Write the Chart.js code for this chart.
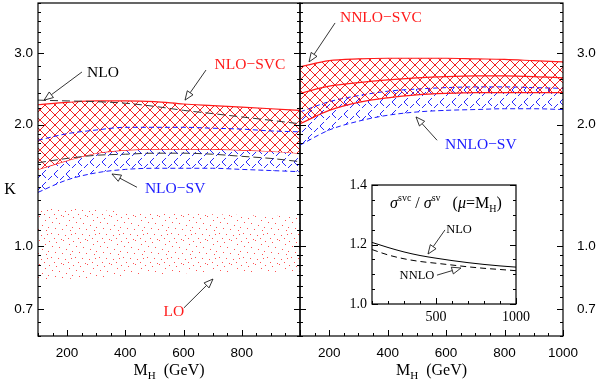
<!DOCTYPE html>
<html>
<head>
<meta charset="utf-8">
<script src="https://cdn.jsdelivr.net/npm/chart.js@4"></script>
<style>
    html, body { margin:0; padding:0; background:#fff; }
    #wrap { position:relative; width:599px; height:383px; overflow:hidden; }
    canvas { position:absolute; }
</style>
</head>
<body>
<div id="wrap">
    <canvas id="left" width="310" height="383" style="left:0; top:0;"></canvas>
    <canvas id="right" width="309" height="383" style="left:290px; top:0;"></canvas>
    <canvas id="inset" width="200" height="150" style="left:340px; top:175px;"></canvas>
</div>
<script>
// --- DATA ---
const mH = [100, 200, 300, 400, 500, 600, 700, 800, 900, 1000];

// left panel
const loUp      = [1.255, 1.24, 1.23, 1.22, 1.21, 1.205, 1.20, 1.195, 1.19, 1.186];
const loLow     = [0.824, 0.830, 0.837, 0.845, 0.852, 0.858, 0.860, 0.862, 0.863, 0.863];
const nloSvUp   = [1.83, 1.90, 1.94, 1.97, 1.97, 1.97, 1.96, 1.95, 1.93, 1.92];
const nloSvLow  = [1.36, 1.46, 1.52, 1.55, 1.56, 1.56, 1.56, 1.55, 1.54, 1.53];
const nloSvcUp  = [2.24, 2.27, 2.29, 2.29, 2.28, 2.25, 2.23, 2.21, 2.19, 2.17];
const nloSvcLow = [1.55, 1.63, 1.70, 1.73, 1.74, 1.74, 1.74, 1.73, 1.72, 1.70];
const nloUp     = [2.30, 2.29, 2.28, 2.26, 2.22, 2.17, 2.13, 2.09, 2.05, 2.01];
const nloLow    = [1.61, 1.65, 1.68, 1.69, 1.70, 1.70, 1.69, 1.67, 1.65, 1.62];

// right panel
const nnloSvcUp  = [2.78, 2.88, 2.91, 2.92, 2.92, 2.92, 2.91, 2.90, 2.88, 2.86];
const nnloSvcMid = [2.39, 2.49, 2.54, 2.58, 2.61, 2.63, 2.64, 2.64, 2.63, 2.61];
const nnloSvcLow = [2.01, 2.17, 2.27, 2.33, 2.37, 2.39, 2.40, 2.40, 2.40, 2.40];
const nnloSvUp   = [2.15, 2.28, 2.36, 2.42, 2.45, 2.47, 2.48, 2.48, 2.47, 2.46];
const nnloSvLow  = [1.78, 1.94, 2.04, 2.11, 2.15, 2.17, 2.18, 2.19, 2.19, 2.18];

// inset: sigma_svc / sigma_sv
const ratioNLO  = [1.207, 1.190, 1.175, 1.163, 1.154, 1.146, 1.139, 1.133, 1.128, 1.124];
const ratioNNLO = [1.183, 1.165, 1.152, 1.143, 1.137, 1.131, 1.125, 1.120, 1.116, 1.112];

// ticks
const kTicks = [0.6, 0.65, 0.7, 0.75, 0.8, 0.85, 0.9, 0.95, 1.0, 1.1, 1.2, 1.3, 1.4, 1.5, 1.6, 1.7, 1.8, 1.9,
                2.0, 2.2, 2.4, 2.6, 2.8, 3.0, 3.2, 3.4, 3.6, 3.8, 4.0];
const kMajor = [0.7, 1.0, 2.0, 3.0];
const mTicks = [100, 150, 200, 250, 300, 350, 400, 450, 500, 550, 600, 650, 700, 750, 800, 850, 900, 950, 1000];
const mMajorLeft = [200, 400, 600, 800];
const mMajorRight = [200, 400, 600, 800, 1000];
const rTicks = [1.0, 1.05, 1.1, 1.15, 1.2, 1.25, 1.3, 1.35, 1.4];
const rMajor = [1.0, 1.2, 1.4];
const insetMTicks = [100, 200, 300, 400, 500, 600, 700, 800, 900, 1000];
const insetMMajor = [500, 1000];

const RED = '#ff1a1a';
const BLUE = '#1a1aff';
const SERIF = "'Liberation Serif', 'Times New Roman', serif";
const SANS = "'Liberation Sans', Arial, sans-serif";

const pts = arr => mH.map((m, i) => ({ x: m, y: arr[i] }));

// --- PATTERNS ---
function tile(w, h) {
    const c = document.createElement('canvas');
    c.width = w; c.height = h;
    return c;
}
function redHatch(opaque) {
    const c = tile(10, 10), g = c.getContext('2d');
    if (opaque) { g.fillStyle = '#fff'; g.fillRect(0, 0, 10, 10); }
    g.strokeStyle = 'rgba(240,20,20,0.95)';
    g.lineWidth = 1;
    g.beginPath();
    g.moveTo(-1, -1); g.lineTo(11, 11);
    g.moveTo(-1, 11); g.lineTo(11, -1);
    g.stroke();
    return g.createPattern(c, 'repeat');
}
function blueHatch() {
    // dashed cross-hatch: short strokes meeting in "<" and "v" shapes
    const c = tile(12, 12), g = c.getContext('2d');
    g.strokeStyle = 'rgba(30,30,255,0.95)';
    g.lineWidth = 1;
    g.beginPath();
    g.moveTo(10, 2); g.lineTo(6, 6); g.lineTo(10, 10);
    g.moveTo(-2, 10); g.lineTo(0, 12); g.lineTo(4, 8);
    g.moveTo(-2, -2); g.lineTo(0, 0); g.lineTo(4, -4);
    g.moveTo(10, 14); g.lineTo(12, 12); g.lineTo(14, 14);
    g.stroke();
    return g.createPattern(c, 'repeat');
}
function redDots() {
    const c = tile(24, 24), g = c.getContext('2d');
    g.fillStyle = 'rgba(255,50,50,0.85)';
    [[1, 1], [8, 2], [15, 0], [21, 4], [4, 6], [11, 7], [18, 9], [0, 11], [7, 12],
     [14, 13], [22, 14], [3, 17], [10, 18], [17, 19], [20, 22], [6, 22], [13, 23], [23, 18]]
        .forEach(([x, y]) => g.fillRect(x, y, 1, 1));
    return g.createPattern(c, 'repeat');
}

// --- DRAWING HELPERS ---
function richText(ctx, parts, x, y, align) {
    let w = 0;
    parts.forEach(p => { ctx.font = p.f; w += ctx.measureText(p.t).width; });
    let cx = align === 'center' ? x - w / 2 : x;
    ctx.textAlign = 'left';
    ctx.textBaseline = 'alphabetic';
    parts.forEach(p => {
        ctx.font = p.f;
        ctx.fillText(p.t, cx, y + (p.dy || 0));
        cx += ctx.measureText(p.t).width;
    });
}

function arrow(ctx, x0, y0, x1, y1) {
    const a = Math.atan2(y1 - y0, x1 - x0);
    const L = 9, W = 3.5;
    const bx = x1 - L * Math.cos(a), by = y1 - L * Math.sin(a);
    ctx.strokeStyle = '#000';
    ctx.lineWidth = 0.8;
    ctx.setLineDash([]);
    ctx.beginPath();
    ctx.moveTo(x0, y0); ctx.lineTo(bx, by);
    ctx.stroke();
    ctx.beginPath();
    ctx.moveTo(x1, y1);
    ctx.lineTo(bx + W * Math.sin(a), by - W * Math.cos(a));
    ctx.lineTo(bx - W * Math.sin(a), by + W * Math.cos(a));
    ctx.closePath();
    ctx.fillStyle = '#fff';
    ctx.fill();
    ctx.stroke();
}

// frame, inward ticks, labels and arrows
function makeDecor(cfg) {
    return {
        id: 'decor',
        afterDatasetsDraw(chart) {
            const { ctx, chartArea: a, scales: { x, y } } = chart;
            ctx.save();
            ctx.strokeStyle = '#000';
            ctx.lineWidth = 1;
            ctx.setLineDash([]);
            ctx.beginPath();
            cfg.yTicks.forEach(v => {
                const p = Math.round(y.getPixelForValue(v)) + 0.5;
                const len = cfg.yMajor.includes(v) ? 6 : 3;
                if (cfg.sides.includes('l')) { ctx.moveTo(a.left, p); ctx.lineTo(a.left + len, p); }
                if (cfg.sides.includes('r')) { ctx.moveTo(a.right, p); ctx.lineTo(a.right - len, p); }
            });
            cfg.xTicks.forEach(v => {
                const p = Math.round(x.getPixelForValue(v)) + 0.5;
                const len = cfg.xMajor.includes(v) ? 6 : 3;
                ctx.moveTo(p, a.bottom); ctx.lineTo(p, a.bottom - len);
            });
            ctx.stroke();
            ctx.lineWidth = 1.2;
            ctx.strokeRect(a.left, a.top, a.right - a.left, a.bottom - a.top);

            (cfg.arrows || []).forEach(([m0, k0, m1, k1]) => {
                arrow(ctx, x.getPixelForValue(m0), y.getPixelForValue(k0),
                           x.getPixelForValue(m1), y.getPixelForValue(k1));
            });
            (cfg.notes || []).forEach(n => {
                ctx.fillStyle = n.c;
                ctx.font = n.f;
                ctx.textAlign = 'center';
                ctx.textBaseline = 'middle';
                ctx.fillText(n.t, x.getPixelForValue(n.m), y.getPixelForValue(n.k));
            });
            if (cfg.extra) cfg.extra(ctx, a, x, y);
            ctx.restore();
        }
    };
}

function xTitle(ctx, a) {
    ctx.fillStyle = '#000';
    richText(ctx, [
        { t: 'M', f: '16px ' + SERIF },
        { t: 'H', f: '11px ' + SERIF, dy: 4 },
        { t: '  (GeV)', f: '16px ' + SERIF }
    ], (a.left + a.right) / 2, 375, 'center');
}

// keep the plot frame where it is: no extra room for overhanging tick labels
const noPadX = h => s => { s.height = h; s.paddingLeft = 0; s.paddingRight = 0; };
const noPadY = w => s => { s.width = w; s.paddingTop = 0; s.paddingBottom = 0; };

function mainScales(side, yW, yPad, xLabels) {
    return {
        x: {
            type: 'linear', min: 100, max: 1000,
            afterBuildTicks: s => { s.ticks = mTicks.map(v => ({ value: v })); },
            afterFit: noPadX(47),
            grid: { display: false, drawTicks: false },
            border: { display: false },
            ticks: {
                autoSkip: false, maxRotation: 0, padding: 9, color: '#000',
                font: { family: SANS, size: 13.5 },
                callback: v => xLabels.includes(v) ? String(v) : ''
            }
        },
        y: {
            type: 'logarithmic', min: 0.6, max: 4, position: side,
            afterBuildTicks: s => { s.ticks = kTicks.map(v => ({ value: v })); },
            afterFit: noPadY(yW),
            grid: { display: false, drawTicks: false },
            border: { display: false },
            ticks: {
                autoSkip: false, padding: yPad, color: '#000',
                font: { family: SANS, size: 13.5 },
                callback: v => kMajor.includes(v) ? v.toFixed(1) : ''
            }
        }
    };
}

const common = {
    responsive: false,
    animation: false,
    events: [],
    plugins: { legend: { display: false }, tooltip: { enabled: false } },
    elements: { point: { radius: 0 }, line: { cubicInterpolationMode: 'monotone' } }
};

// --- LEFT PANEL (NLO) ---
new Chart(document.getElementById('left'), {
    type: 'line',
    data: {
        datasets: [
            { data: pts(loUp), fill: 1, backgroundColor: redDots(), borderWidth: 0, order: 10 },
            { data: pts(loLow), fill: false, borderWidth: 0, order: 10 },
            { data: pts(nloSvLow), fill: 3, backgroundColor: blueHatch(), borderColor: BLUE, borderWidth: 1, borderDash: [5, 3], order: 8 },
            { data: pts(nloSvUp), fill: false, borderColor: BLUE, borderWidth: 1, borderDash: [5, 3], order: 2 },
            { data: pts(nloSvcUp), fill: 5, backgroundColor: redHatch(true), borderColor: RED, borderWidth: 1.2, order: 6 },
            { data: pts(nloSvcLow), fill: false, borderColor: RED, borderWidth: 1.2, order: 6 },
            { data: pts(nloUp), fill: false, borderColor: '#333', borderWidth: 1, borderDash: [8, 4], order: 1 },
            { data: pts(nloLow), fill: false, borderColor: '#333', borderWidth: 1, borderDash: [8, 4], order: 1 }
        ]
    },
    options: {
        ...common,
        layout: { padding: { left: 0, right: 10, top: 3, bottom: 0 } },
        scales: mainScales('left', 38, 5, mMajorLeft)
    },
    plugins: [makeDecor({
        yTicks: kTicks, yMajor: kMajor, xTicks: mTicks, xMajor: mMajorLeft.concat([1000]), sides: 'lr',
        notes: [
            { t: 'NLO', m: 323, k: 2.68, c: '#000', f: '15.5px ' + SERIF },
            { t: 'NLO\u2212SVC', m: 828, k: 2.81, c: RED, f: '15.5px ' + SERIF },
            { t: 'NLO\u2212SV', m: 571, k: 1.386, c: BLUE, f: '15.5px ' + SERIF },
            { t: 'LO', m: 567, k: 0.688, c: RED, f: '15.5px ' + SERIF }
        ],
        arrows: [
            [251, 2.70, 121, 2.30],
            [677, 2.73, 605, 2.30],
            [440, 1.40, 354, 1.51],
            [601, 0.704, 701, 0.830]
        ],
        extra: (ctx, a) => {
            ctx.fillStyle = '#000';
            ctx.font = '16px ' + SERIF;
            ctx.textAlign = 'center';
            ctx.textBaseline = 'middle';
            ctx.fillText('K', 10, 190);
            xTitle(ctx, a);
        }
    })]
});

// --- RIGHT PANEL (NNLO) ---
new Chart(document.getElementById('right'), {
    type: 'line',
    data: {
        datasets: [
            { data: pts(nnloSvLow), fill: 1, backgroundColor: blueHatch(), borderColor: BLUE, borderWidth: 1, borderDash: [5, 3], order: 5 },
            { data: pts(nnloSvUp), fill: false, borderColor: BLUE, borderWidth: 1, borderDash: [5, 3], order: 5 },
            { data: pts(nnloSvcUp), fill: 4, backgroundColor: redHatch(false), borderColor: RED, borderWidth: 1.2, order: 3 },
            { data: pts(nnloSvcMid), fill: false, borderColor: RED, borderWidth: 1.2, order: 3 },
            { data: pts(nnloSvcLow), fill: false, borderColor: RED, borderWidth: 1.2, order: 3 }
        ]
    },
    options: {
        ...common,
        layout: { padding: { left: 10, right: 0, top: 3, bottom: 0 } },
        scales: mainScales('right', 36, 14, mMajorRight)
    },
    plugins: [makeDecor({
        yTicks: kTicks, yMajor: kMajor, xTicks: mTicks, xMajor: mMajorRight, sides: 'lr',
        notes: [
            { t: 'NNLO\u2212SVC', m: 377, k: 3.67, c: RED, f: '15.5px ' + SERIF },
            { t: 'NNLO\u2212SV', m: 719, k: 1.78, c: BLUE, f: '15.5px ' + SERIF }
        ],
        arrows: [
            [220, 3.57, 131, 2.86],
            [569, 1.83, 497, 2.09]
        ],
        extra: (ctx, a) => xTitle(ctx, a)
    })]
});

// --- INSET (ratio) ---
new Chart(document.getElementById('inset'), {
    type: 'line',
    data: {
        datasets: [
            { data: pts(ratioNLO), fill: false, borderColor: '#000', borderWidth: 1 },
            { data: pts(ratioNNLO), fill: false, borderColor: '#000', borderWidth: 1, borderDash: [6, 4] }
        ]
    },
    options: {
        ...common,
        layout: { padding: { left: 0, right: 24, top: 10, bottom: 0 } },
        scales: {
            x: {
                type: 'linear', min: 100, max: 1000,
                afterBuildTicks: s => { s.ticks = insetMTicks.map(v => ({ value: v })); },
                afterFit: noPadX(21),
                grid: { display: false, drawTicks: false },
                border: { display: false },
                ticks: {
                    autoSkip: false, maxRotation: 0, padding: 5, color: '#000',
                    font: { family: SERIF, size: 14 },
                    callback: v => insetMMajor.includes(v) ? String(v) : ''
                }
            },
            y: {
                type: 'linear', min: 1.0, max: 1.4,
                afterBuildTicks: s => { s.ticks = rTicks.map(v => ({ value: v })); },
                afterFit: noPadY(32),
                grid: { display: false, drawTicks: false },
                border: { display: false },
                ticks: {
                    autoSkip: false, padding: 5, color: '#000',
                    font: { family: SERIF, size: 14 },
                    callback: v => rMajor.some(r => Math.abs(r - v) < 1e-9) ? v.toFixed(1) : ''
                }
            }
        }
    },
    plugins: [makeDecor({
        yTicks: rTicks, yMajor: rMajor, xTicks: insetMTicks, xMajor: insetMMajor, sides: 'lr',
        notes: [
            { t: 'NLO', m: 644, k: 1.249, c: '#000', f: '12.5px ' + SERIF },
            { t: 'NNLO', m: 381, k: 1.094, c: '#000', f: '12.5px ' + SERIF }
        ],
        arrows: [
            [556, 1.249, 450, 1.168],
            [506, 1.097, 656, 1.121]
        ],
        extra: (ctx, a, x, y) => {
            ctx.fillStyle = '#000';
            const it = 'italic 16px ' + SERIF, rm = '16px ' + SERIF, sm = '10px ' + SERIF;
            richText(ctx, [
                { t: '\u03c3', f: it },
                { t: 'svc', f: sm, dy: -7 },
                { t: ' / ', f: rm },
                { t: '\u03c3', f: it },
                { t: 'sv', f: sm, dy: -7 },
                { t: '   (', f: rm },
                { t: '\u03bc', f: it },
                { t: '=M', f: rm },
                { t: 'H', f: sm, dy: 4 },
                { t: ')', f: rm }
            ], x.getPixelForValue(562), y.getPixelForValue(1.339) + 5, 'center');
        }
    })]
});
</script>
</body>
</html>
